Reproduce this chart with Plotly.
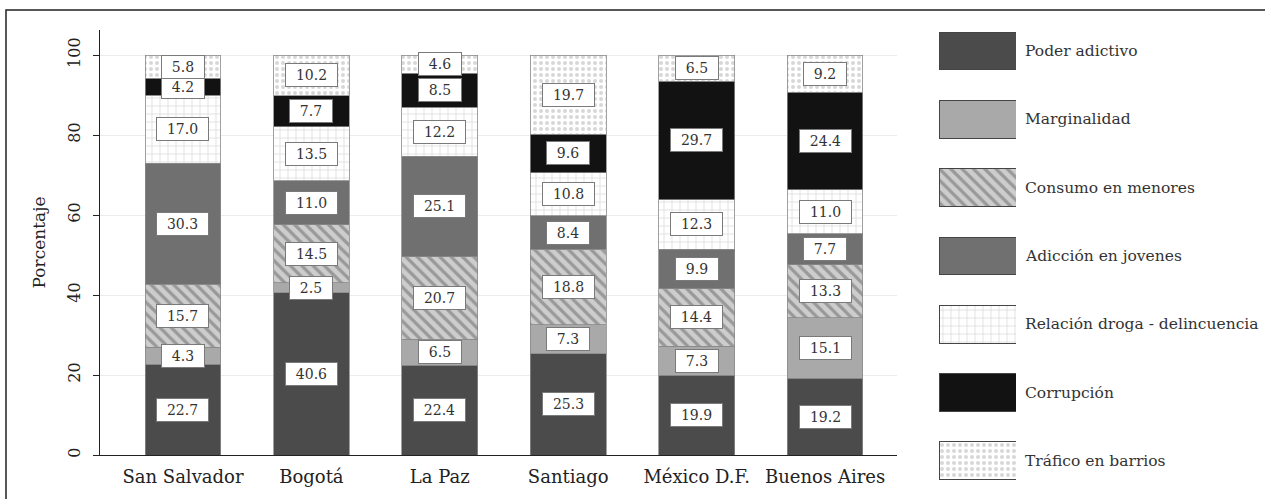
import plotly.graph_objects as go

cities = ["San Salvador", "Bogotá", "La Paz", "Santiago", "México D.F.", "Buenos Aires"]
series_names = ["Poder adictivo", "Marginalidad", "Consumo en menores", "Adicción en jovenes",
                "Relación droga - delincuencia", "Corrupción", "Tráfico en barrios"]

poder_adictivo = [22.7, 40.6, 22.4, 25.3, 19.9, 19.2]
marginalidad = [4.3, 2.5, 6.5, 7.3, 7.3, 15.1]
consumo_menores = [15.7, 14.5, 20.7, 18.8, 14.4, 13.3]
adiccion_jovenes = [30.3, 11.0, 25.1, 8.4, 9.9, 7.7]
relacion_droga = [17.0, 13.5, 12.2, 10.8, 12.3, 11.0]
corrupcion = [4.2, 7.7, 8.5, 9.6, 29.7, 24.4]
trafico_barrios = [5.8, 10.2, 4.6, 19.7, 6.5, 9.2]

y_ticks = [0, 20, 40, 60, 80, 100]

series_values = [poder_adictivo, marginalidad, consumo_menores, adiccion_jovenes,
                 relacion_droga, corrupcion, trafico_barrios]

styles = [
    dict(color="#4b4b4b", pattern=None),
    dict(color="#a9a9a9", pattern=None),
    dict(color="#c4c4c4", pattern=dict(shape="\\", fgcolor="#656565", bgcolor="#cdcdcd", size=8, solidity=0.4)),
    dict(color="#707070", pattern=None),
    dict(color="#ffffff", pattern=dict(shape="+", fgcolor="#a8a8a8", bgcolor="#ffffff", size=8, solidity=0.15)),
    dict(color="#121212", pattern=None),
    dict(color="#ffffff", pattern=dict(shape=".", fgcolor="#b0b0b0", bgcolor="#ffffff", size=6, solidity=0.35)),
]

SERIF = "DejaVu Serif"
fig = go.Figure()

for name, vals, st in zip(series_names, series_values, styles):
    marker = dict(color=st["color"], line=dict(color="#8a8a8a", width=0.8))
    if st["pattern"]:
        marker["pattern"] = st["pattern"]
    fig.add_trace(go.Bar(x=cities, y=vals, name=name, marker=marker, width=0.59,
                         showlegend=False, xaxis="x", yaxis="y", hoverinfo="skip"))

# value labels
annotations = []
for i, city in enumerate(cities):
    cum = 0.0
    for vals in series_values:
        v = vals[i]
        mid = cum + v / 2
        cum += v
        txt = f"{v:.1f}"
        annotations.append(dict(
            x=city, y=mid, xref="x", yref="y", text=txt, showarrow=False,
            font=dict(family=SERIF, size=14, color="#333333"),
            bgcolor="white", bordercolor="#7a7a7a", borderwidth=1, borderpad=2,
            width=38 if len(txt) == 3 else 47, height=18,
        ))

# legend swatches on a separate axis
for j, (name, st) in enumerate(zip(series_names, styles)):
    marker = dict(color=st["color"], line=dict(color="#444444", width=1))
    if st["pattern"]:
        marker["pattern"] = st["pattern"]
    fig.add_trace(go.Bar(x=[1], y=[j], orientation="h", marker=marker, width=0.556,
                         showlegend=False, xaxis="x2", yaxis="y2", hoverinfo="skip"))
    annotations.append(dict(
        x=0.796, y=j, xref="paper", yref="y2", text=name, showarrow=False,
        xanchor="left", yanchor="middle",
        font=dict(family=SERIF, size=15.5, color="#333333"),
    ))

W, H = 1265, 499
ml, mr, mt, mb = 100, 5, 10, 10
pw, ph = W - ml - mr, H - mt - mb

def px_x(p):
    return (p - ml) / pw

def px_y(p):
    return (H - mb - p) / ph

fig.update_layout(
    width=W, height=H,
    margin=dict(l=ml, r=mr, t=mt, b=mb),
    paper_bgcolor="white", plot_bgcolor="white",
    barmode="stack", bargap=0.3,
    annotations=annotations,
    xaxis=dict(domain=[0, px_x(897)], range=[-0.646, 5.56], showgrid=False,
               showline=True, linecolor="#222222", linewidth=1.2, ticks="",
               ticklabelstandoff=5,
               tickfont=dict(family=SERIF, size=18, color="#222222"), zeroline=False),
    yaxis=dict(domain=[px_y(455), px_y(30)], range=[0, 106.25], tickvals=y_ticks,
               showgrid=True, gridcolor="#ececec", gridwidth=1,
               showline=True, linecolor="#222222", linewidth=1.2,
               ticks="outside", ticklen=6, tickcolor="#222222", tickangle=-90,
               ticklabelstandoff=7,
               tickfont=dict(family=SERIF, size=16, color="#222222"), zeroline=False,
               title=dict(text="Porcentaje", font=dict(family=SERIF, size=17, color="#222222"), standoff=14)),
    xaxis2=dict(domain=[px_x(939), px_x(1016)], range=[0, 1], visible=False, anchor="y2"),
    yaxis2=dict(domain=[0, 1], range=[6.41, -0.6], visible=False, anchor="x2"),
    shapes=[dict(type="rect", xref="paper", yref="paper",
                 x0=px_x(6), x1=px_x(1275), y0=px_y(510), y1=px_y(10),
                 line=dict(color="#222222", width=1.5), fillcolor="rgba(0,0,0,0)", layer="below")],
)

fig.write_html("out.html")
